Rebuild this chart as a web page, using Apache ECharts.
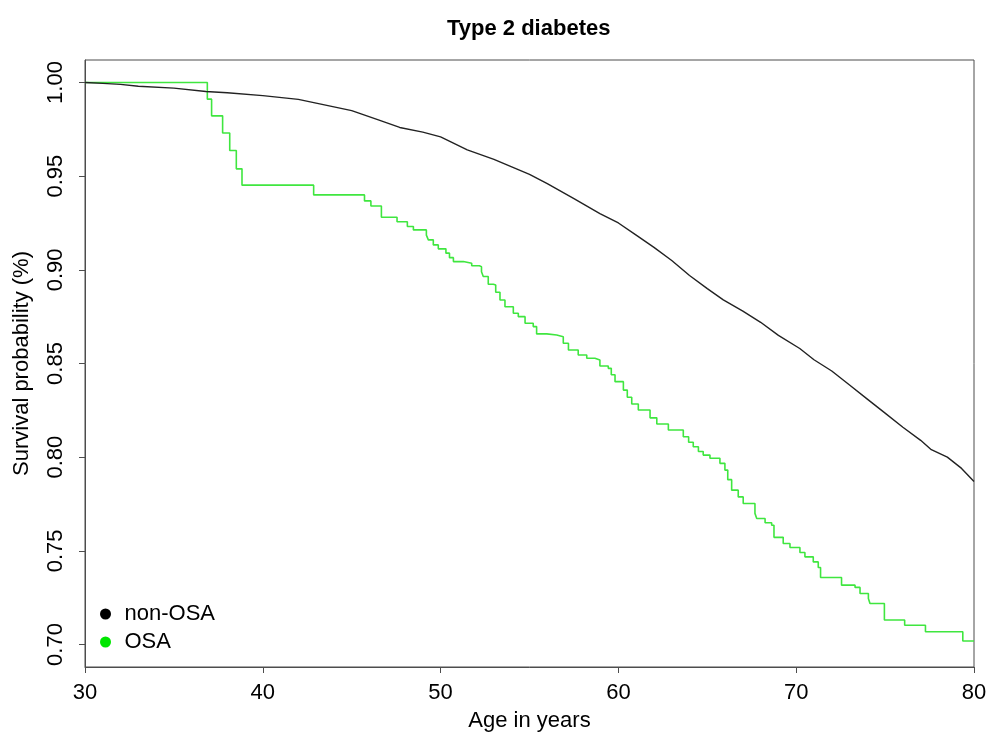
<!DOCTYPE html>
<html>
<head>
<meta charset="utf-8">
<script src="https://cdn.jsdelivr.net/npm/echarts@6/dist/echarts.min.js"></script>
<style>
html,body{margin:0;padding:0;background:#fff;}
#chart{width:989px;height:740px;}
</style>
</head>
<body>
<div id="chart"></div>
<script>
var chartTitle = 'Type 2 diabetes';
var xAxisTitle = 'Age in years';
var yAxisTitle = 'Survival probability (%)';
var seriesNames = ['non-OSA', 'OSA'];
var xTicks = [30, 40, 50, 60, 70, 80];
var yTicks = [0.70, 0.75, 0.80, 0.85, 0.90, 0.95, 1.00];

// non-OSA survival (age, probability)
var nonOsaAge = [30, 31, 32, 33, 35, 36.8, 38, 40, 42, 43, 45, 46.5, 47.7, 49, 50, 51.5, 53, 54, 55, 56, 57.5, 58.96, 60, 61, 62, 63, 64, 65, 65.9, 67, 68, 69, 70.2, 71, 72, 73, 74, 75, 76, 77, 77.6, 78.5, 79.3, 80];
var nonOsaSurv = [1.000, 0.9995, 0.999, 0.998, 0.997, 0.9952, 0.9945, 0.993, 0.991, 0.989, 0.985, 0.980, 0.976, 0.9735, 0.971, 0.964, 0.959, 0.955, 0.951, 0.946, 0.938, 0.930, 0.925, 0.9185, 0.912, 0.905, 0.897, 0.890, 0.884, 0.878, 0.872, 0.865, 0.858, 0.852, 0.846, 0.8385, 0.831, 0.8235, 0.816, 0.809, 0.804, 0.800, 0.794, 0.787];

// OSA survival, step function (age of event, probability after event)
var osaAge = [30, 36.88, 37.12, 37.74, 38.14, 38.51, 38.83, 42.86, 45.72, 46.08, 46.67, 47.55, 48.13, 48.47, 49.2, 49.31, 49.59, 49.87, 50.30, 50.5, 50.72, 51.28, 51.75, 52.18, 52.30, 52.40, 52.68, 52.97, 53.10, 53.34, 53.62, 54.09, 54.37, 54.75, 55.21, 55.40, 55.97, 56.53, 56.90, 57.19, 57.74, 58.22, 58.68, 58.96, 59.43, 59.6, 59.81, 60.28, 60.5, 60.75, 61.12, 61.78, 62.16, 62.81, 63.65, 63.95, 64.21, 64.5, 64.77, 65.15, 65.71, 65.99, 66.15, 66.37, 66.74, 67.02, 67.68, 67.78, 68.25, 68.62, 68.75, 69.27, 69.65, 70.21, 70.49, 70.96, 71.24, 71.37, 72.55, 73.31, 73.59, 74.06, 74.15, 74.96, 76.10, 77.27, 79.37, 80];
var osaSurv = [1.000, 0.9911, 0.9822, 0.9730, 0.9637, 0.9539, 0.9452, 0.9400, 0.9368, 0.9341, 0.9281, 0.9257, 0.9231, 0.9213, 0.9185, 0.9160, 0.9133, 0.9112, 0.9089, 0.9065, 0.9044, 0.9035, 0.9022, 0.9017, 0.8990, 0.8964, 0.8923, 0.8919, 0.8880, 0.8839, 0.8803, 0.8768, 0.8750, 0.8715, 0.8697, 0.8658, 0.8652, 0.8643, 0.8608, 0.8572, 0.8545, 0.8528, 0.8519, 0.8487, 0.8474, 0.8440, 0.8403, 0.8358, 0.8320, 0.8284, 0.8252, 0.8210, 0.8177, 0.8145, 0.8109, 0.8080, 0.8056, 0.8030, 0.8011, 0.7994, 0.7967, 0.7931, 0.7880, 0.7824, 0.7788, 0.7753, 0.7700, 0.7673, 0.7650, 0.7637, 0.7572, 0.7539, 0.7518, 0.7491, 0.7468, 0.7441, 0.7411, 0.7358, 0.7317, 0.7305, 0.7272, 0.7246, 0.7219, 0.7131, 0.7103, 0.7068, 0.7019, 0.7019];

function pairs(a, b) { return a.map(function (v, i) { return [v, b[i]]; }); }

var font = 'Liberation Sans, Arial, sans-serif';
var axisColor = '#4d4d4d';

var chart = echarts.init(document.getElementById('chart'), null, {renderer: 'canvas'});
chart.setOption({
  animation: false,
  backgroundColor: '#ffffff',
  title: {
    text: chartTitle,
    left: 442,
    top: 13,
    textStyle: {fontFamily: font, fontSize: 22, fontWeight: 'bold', color: '#000'}
  },
  legend: {
    orient: 'vertical',
    left: 95,
    top: 598,
    icon: 'circle',
    itemWidth: 28,
    itemHeight: 11,
    itemGap: 6,
    textStyle: {fontFamily: font, fontSize: 22, color: '#000'},
    data: [
      {name: seriesNames[0], itemStyle: {color: '#000000'}},
      {name: seriesNames[1], itemStyle: {color: '#00e600'}}
    ]
  },
  grid: {
    left: 85, right: 15, top: 60, bottom: 73,
    outerBoundsMode: 'none',
    containLabel: false,
    show: true, borderColor: axisColor, borderWidth: 1, backgroundColor: 'transparent'
  },
  xAxis: {
    type: 'value',
    min: 30, max: 80, interval: 10,
    name: xAxisTitle,
    nameLocation: 'middle',
    nameGap: 43,
    nameTextStyle: {fontFamily: font, fontSize: 22, color: '#000'},
    axisLine: {show: true, lineStyle: {color: axisColor, width: 1}},
    axisTick: {show: true, length: 6, inside: false, lineStyle: {color: axisColor}, customValues: xTicks},
    axisLabel: {fontFamily: font, fontSize: 22, color: '#000', margin: 15, customValues: xTicks},
    splitLine: {show: false}
  },
  yAxis: {
    type: 'value',
    min: 0.688, max: 1.012,
    name: yAxisTitle,
    nameLocation: 'middle',
    nameGap: 52,
    nameTextStyle: {fontFamily: font, fontSize: 22, color: '#000'},
    axisLine: {show: true, lineStyle: {color: axisColor, width: 1}},
    axisTick: {show: true, length: 6, inside: false, lineStyle: {color: axisColor}, customValues: yTicks},
    axisLabel: {
      fontFamily: font, fontSize: 22, color: '#000', rotate: 90, margin: 18,
      customValues: yTicks,
      formatter: function (v) { return v.toFixed(2); }
    },
    splitLine: {show: false}
  },
  series: [
    {
      name: seriesNames[0],
      type: 'line',
      data: pairs(nonOsaAge, nonOsaSurv),
      showSymbol: false,
      symbol: 'none',
      color: '#000000',
      lineStyle: {color: '#222222', width: 1.4},
      z: 3
    },
    {
      name: seriesNames[1],
      type: 'line',
      step: 'end',
      data: pairs(osaAge, osaSurv),
      showSymbol: false,
      symbol: 'none',
      color: '#00e600',
      lineStyle: {color: '#3fe63f', width: 1.6},
      z: 2
    }
  ]
});
</script>
</body>
</html>
